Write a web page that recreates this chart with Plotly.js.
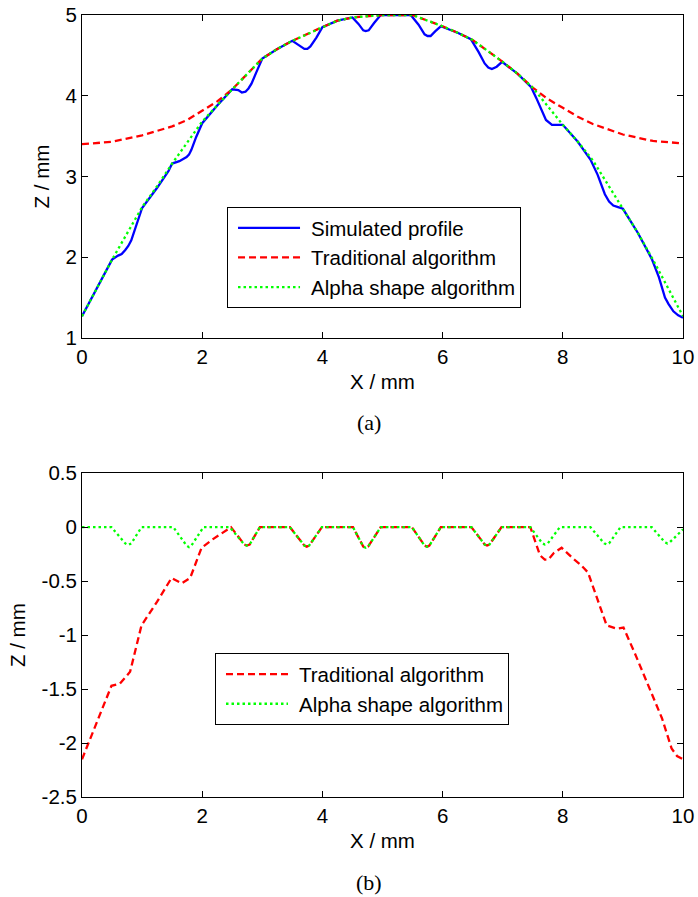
<!DOCTYPE html>
<html>
<head>
<meta charset="utf-8">
<script src="https://cdn.plot.ly/plotly-3.0.1.min.js"></script>
<style>html,body{margin:0;padding:0;background:#fff;}#chart{width:698px;height:897px;}</style>
</head>
<body>
<div id="chart"></div>
<script>
// ---------- (a) profiles ----------
var simX = [0, 0.5, 0.6, 0.66, 0.72, 0.77, 0.82, 0.9, 1.0, 1.25, 1.44, 1.5, 1.62, 1.74, 1.78, 1.82, 1.9, 2.0, 2.16, 2.25, 2.5, 2.6, 2.66, 2.72, 2.77, 2.82, 2.9, 3.0, 3.25, 3.5, 3.6, 3.7, 3.75, 3.8, 3.9, 4.0, 4.25, 4.5, 4.6, 4.68, 4.72, 4.77, 4.86, 4.97, 5.25, 5.47, 5.6, 5.7, 5.75, 5.8, 5.88, 5.97, 6.25, 6.47, 6.6, 6.7, 6.76, 6.82, 6.9, 6.99, 7.25, 7.47, 7.56, 7.66, 7.72, 7.82, 7.9, 8.0, 8.25, 8.46, 8.58, 8.7, 8.77, 8.84, 8.92, 9.0, 9.25, 9.48, 9.6, 9.7, 9.76, 9.84, 9.92, 10];
var simZ = [1.27, 1.97, 2.02, 2.04, 2.09, 2.14, 2.21, 2.38, 2.61, 2.86, 3.07, 3.16, 3.19, 3.24, 3.27, 3.33, 3.49, 3.66, 3.81, 3.88, 4.08, 4.07, 4.04, 4.05, 4.09, 4.15, 4.29, 4.46, 4.58, 4.68, 4.63, 4.58, 4.58, 4.61, 4.72, 4.85, 4.93, 4.97, 4.89, 4.81, 4.80, 4.81, 4.90, 5.0, 5.0, 5.0, 4.88, 4.76, 4.74, 4.74, 4.80, 4.86, 4.78, 4.70, 4.54, 4.40, 4.35, 4.33, 4.36, 4.42, 4.27, 4.11, 3.97, 3.79, 3.70, 3.64, 3.64, 3.64, 3.43, 3.21, 3.02, 2.78, 2.69, 2.64, 2.62, 2.60, 2.30, 1.98, 1.75, 1.50, 1.42, 1.33, 1.28, 1.25];

var tradX = [0, 0.5, 1.0, 1.5, 1.75, 2.0, 2.25, 2.5, 3.0, 3.25, 3.5, 4.0, 4.25, 4.5, 5.0, 5.5, 6.0, 6.25, 6.5, 7.0, 7.25, 7.5, 7.75, 8.0, 8.25, 8.5, 9.0, 9.5, 10];
var tradZ = [3.40, 3.43, 3.51, 3.62, 3.70, 3.81, 3.93, 4.08, 4.46, 4.58, 4.68, 4.85, 4.93, 4.97, 5.0, 5.0, 4.86, 4.78, 4.69, 4.42, 4.27, 4.10, 3.96, 3.85, 3.74, 3.65, 3.52, 3.44, 3.41];

var alphaX = [0, 0.5, 1.0, 1.25, 1.5, 2.0, 2.25, 2.5, 3.0, 3.25, 3.5, 4.0, 4.25, 4.5, 5.0, 5.5, 6.0, 6.25, 6.5, 7.0, 7.25, 7.5, 8.0, 8.25, 8.5, 9.0, 9.25, 9.5, 10];
var alphaZ = [1.27, 1.97, 2.62, 2.88, 3.16, 3.68, 3.88, 4.08, 4.46, 4.58, 4.68, 4.85, 4.93, 4.97, 5.0, 5.0, 4.86, 4.78, 4.69, 4.42, 4.27, 4.10, 3.64, 3.43, 3.20, 2.60, 2.30, 1.97, 1.27];

// ---------- (b) errors ----------
var errTradX = [0, 0.25, 0.49, 0.63, 0.8, 0.99, 1.25, 1.49, 1.58, 1.66, 1.8, 1.99, 2.18, 2.35, 2.48, 2.70, 2.74, 2.79, 2.96, 3.46, 3.70, 3.74, 3.78, 3.99, 4.51, 4.68, 4.72, 4.76, 4.97, 5.49, 5.70, 5.74, 5.78, 5.97, 6.48, 6.70, 6.74, 6.78, 6.98, 7.46, 7.55, 7.62, 7.70, 7.76, 7.85, 7.98, 8.17, 8.30, 8.42, 8.55, 8.73, 8.90, 9.01, 9.2, 9.40, 9.52, 9.65, 9.81, 9.9, 10];
var errTradZ = [-2.15, -1.80, -1.47, -1.45, -1.34, -0.91, -0.69, -0.47, -0.50, -0.52, -0.47, -0.19, -0.11, -0.05, 0, -0.16, -0.17, -0.16, 0, 0, -0.17, -0.18, -0.17, 0, 0, -0.18, -0.19, -0.18, 0, 0, -0.17, -0.18, -0.17, 0, 0, -0.16, -0.17, -0.16, 0, 0, -0.15, -0.26, -0.30, -0.30, -0.24, -0.19, -0.29, -0.35, -0.42, -0.62, -0.91, -0.94, -0.93, -1.17, -1.43, -1.60, -1.77, -2.05, -2.12, -2.15];

var errAlphaX = [0, 0.49, 0.72, 0.77, 0.82, 0.99, 1.52, 1.74, 1.78, 1.82, 2.02, 2.46, 2.70, 2.74, 2.79, 2.96, 3.46, 3.70, 3.74, 3.78, 3.99, 4.51, 4.68, 4.72, 4.76, 4.97, 5.49, 5.70, 5.74, 5.78, 5.97, 6.48, 6.70, 6.74, 6.78, 6.98, 7.46, 7.66, 7.70, 7.75, 7.95, 8.46, 8.69, 8.73, 8.77, 8.96, 9.48, 9.70, 9.74, 9.78, 10];
var errAlphaZ = [0, 0, -0.15, -0.165, -0.15, 0, 0, -0.17, -0.185, -0.17, 0, 0, -0.16, -0.17, -0.16, 0, 0, -0.17, -0.18, -0.17, 0, 0, -0.18, -0.19, -0.18, 0, 0, -0.17, -0.18, -0.17, 0, 0, -0.16, -0.17, -0.16, 0, 0, -0.15, -0.16, -0.15, 0, 0, -0.15, -0.16, -0.15, 0, 0, -0.14, -0.15, -0.14, -0.02];

var seriesNames = ['Simulated profile', 'Traditional algorithm', 'Alpha shape algorithm'];
var xTicks = [0, 2, 4, 6, 8, 10];
var yTicksTop = [1, 2, 3, 4, 5];
var yTicksBottom = [-2.5, -2, -1.5, -1, -0.5, 0, 0.5];
var yTickTextBottom = ['-2.5', '-2', '-1.5', '-1', '-0.5', '0', '0.5'];
var xTitle = 'X / mm', yTitle = 'Z / mm';
var captions = ['(a)', '(b)'];

var BLUE = '#0000ff', RED = '#ff0000', GREEN = '#00ff00';
var DASH = '7px,4px', DOT = '2.5px,3px';

var traces = [
  {x: simX, y: simZ, name: seriesNames[0], type: 'scatter', mode: 'lines', line: {color: BLUE, width: 2.3}, xaxis: 'x', yaxis: 'y', legend: 'legend'},
  {x: tradX, y: tradZ, name: seriesNames[1], type: 'scatter', mode: 'lines', line: {color: RED, width: 2.3, dash: DASH}, xaxis: 'x', yaxis: 'y', legend: 'legend'},
  {x: alphaX, y: alphaZ, name: seriesNames[2], type: 'scatter', mode: 'lines', line: {color: GREEN, width: 2.3, dash: DOT}, xaxis: 'x', yaxis: 'y', legend: 'legend'},
  {x: errTradX, y: errTradZ, name: seriesNames[1], type: 'scatter', mode: 'lines', line: {color: RED, width: 2.3, dash: DASH}, xaxis: 'x2', yaxis: 'y2', legend: 'legend2'},
  {x: errAlphaX, y: errAlphaZ, name: seriesNames[2], type: 'scatter', mode: 'lines', line: {color: GREEN, width: 2.3, dash: DOT}, xaxis: 'x2', yaxis: 'y2', legend: 'legend2'}
];

var FONT = 'Liberation Sans, Arial, sans-serif';
var FS = 20.5;
var axisCommon = {
  showgrid: false, zeroline: false, showline: true, linecolor: '#000', linewidth: 1,
  mirror: 'ticks', ticks: 'inside', ticklen: 6, tickcolor: '#000', tickwidth: 1,
  tickfont: {family: FONT, size: FS, color: '#000'}, automargin: false
};
function ax(extra) { return Object.assign({}, axisCommon, extra); }

var legendCommon = {
  bgcolor: '#fff', bordercolor: '#000', borderwidth: 1,
  font: {family: FONT, size: FS, color: '#000'},
  xanchor: 'left', yanchor: 'top', itemwidth: 73, tracegroupgap: 0
};

var layout = {
  width: 698, height: 897,
  margin: {l: 82, r: 15, t: 15, b: 100},
  paper_bgcolor: '#fff', plot_bgcolor: '#fff',
  font: {family: FONT, size: FS, color: '#000'},
  showlegend: true,
  xaxis: ax({domain: [0, 1], range: [0, 10], tickvals: xTicks, anchor: 'y',
             title: {text: xTitle, font: {family: FONT, size: FS}, standoff: 8}}),
  yaxis: ax({domain: [0.587, 1], range: [1, 5], tickvals: yTicksTop, anchor: 'x',
             title: {text: yTitle, font: {family: FONT, size: FS}, standoff: 10}}),
  xaxis2: ax({domain: [0, 1], range: [0, 10], tickvals: xTicks, anchor: 'y2',
              title: {text: xTitle, font: {family: FONT, size: FS}, standoff: 8}}),
  yaxis2: ax({domain: [0, 0.414], range: [-2.5, 0.5], tickvals: yTicksBottom, ticktext: yTickTextBottom, anchor: 'x2',
              title: {text: yTitle, font: {family: FONT, size: FS}, standoff: 10}}),
  legend: Object.assign({}, legendCommon, {x: 0.2413, y: 0.7545}),
  legend2: Object.assign({}, legendCommon, {x: 0.2213, y: 0.1838}),
  annotations: [
    {text: captions[0], xref: 'paper', yref: 'paper', x: (369 - 82) / 601, y: (797 - 422) / 782,
     xanchor: 'center', yanchor: 'middle', showarrow: false, font: {family: 'Liberation Serif, Times New Roman, serif', size: 22, color: '#000'}},
    {text: captions[1], xref: 'paper', yref: 'paper', x: (369 - 82) / 601, y: (797 - 882) / 782,
     xanchor: 'center', yanchor: 'middle', showarrow: false, font: {family: 'Liberation Serif, Times New Roman, serif', size: 22, color: '#000'}}
  ]
};

Plotly.newPlot('chart', traces, layout, {staticPlot: true}).then(function (gd) {
  // lengthen legend line samples to MATLAB-like length
  gd.querySelectorAll('.legendlines path').forEach(function (p) {
    p.setAttribute('d', 'M10,0h62');
  });
});
</script>
</body>
</html>
